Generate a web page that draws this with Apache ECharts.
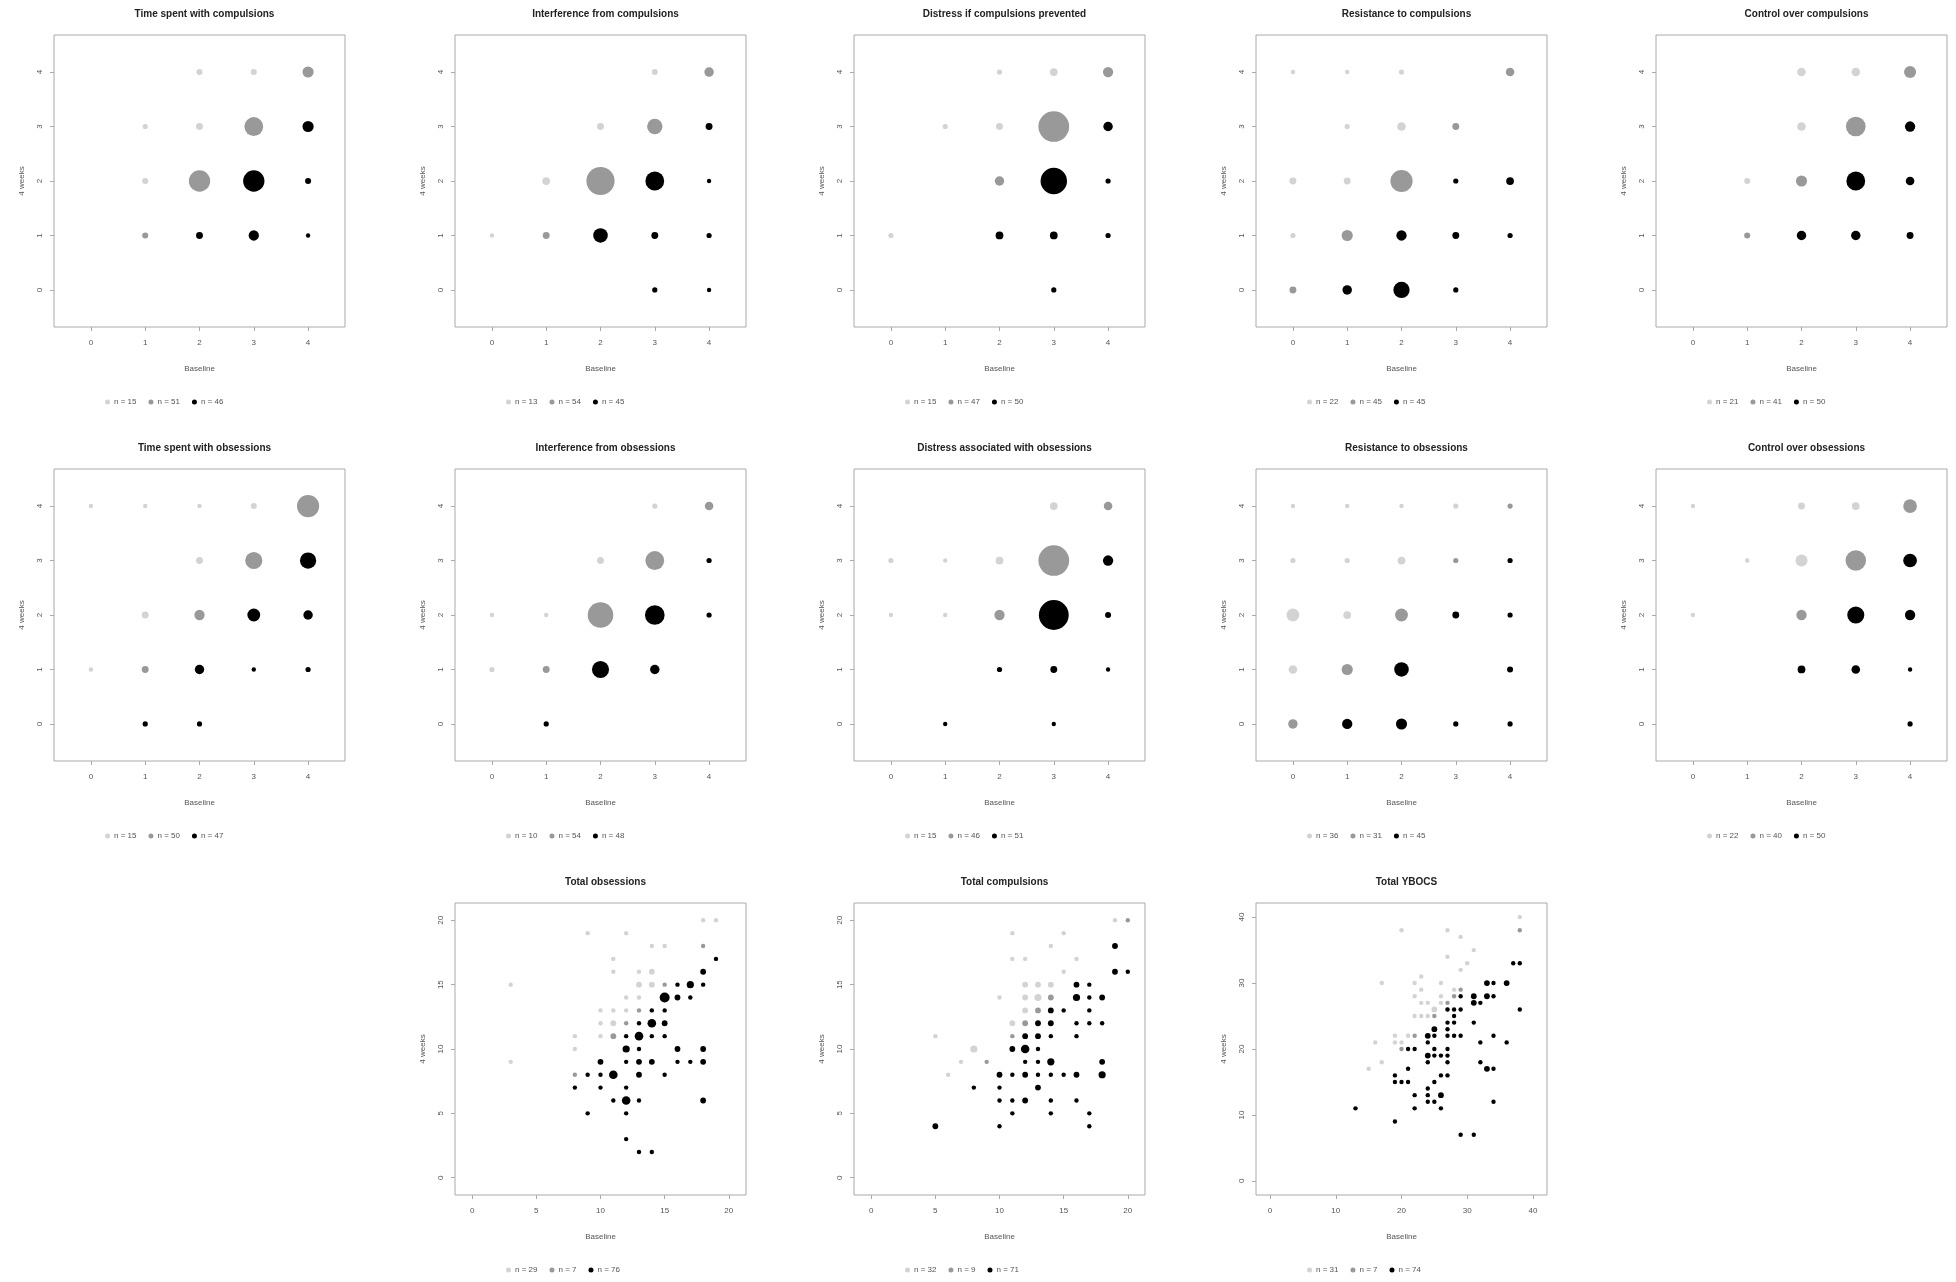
<!DOCTYPE html>
<html><head><meta charset="utf-8">
<script src="https://cdn.jsdelivr.net/npm/echarts@6/dist/echarts.min.js"></script>
<style>html,body{margin:0;padding:0;background:#fff}#c{width:1956px;height:1282px}</style>
</head><body><div id="c"></div>
<script>
// ---------- DATA ----------
const titles = ["Time spent with compulsions","Interference from compulsions","Distress if compulsions prevented","Resistance to compulsions","Control over compulsions",
"Time spent with obsessions","Interference from obsessions","Distress associated with obsessions","Resistance to obsessions","Control over obsessions",
"Total obsessions","Total compulsions","Total YBOCS"];
const ordTicks = [0,1,2,3,4];
const subTotTicks = [0,5,10,15,20];
const ybocsTicks = [0,10,20,30,40];
const xName = "Baseline", yName = "4 weeks";
// legend counts [worse, same, better]
const legendN = [[15,51,46],[13,54,45],[15,47,50],[22,45,45],[21,41,50],[15,50,47],[10,54,48],[15,46,51],[36,31,45],[22,40,50],[29,7,76],[32,9,71],[31,7,74]];
// each point: [baseline, 4 weeks, count]
const p1L=[[2,4,3],[3,4,3],[1,3,2],[2,3,4],[1,2,3]];
const p1G=[[1,1,3],[2,2,21],[3,3,18],[4,4,9]];
const p1B=[[3,2,21],[4,3,9],[3,1,8],[2,1,4],[4,2,3],[4,1,1]];
const p2L=[[3,4,3],[2,3,4],[1,2,5],[0,1,1]];
const p2G=[[4,4,7],[3,3,14],[2,2,29],[1,1,4]];
const p2B=[[4,3,4],[3,2,18],[4,2,1],[2,1,13],[3,1,4],[4,1,2],[3,0,2],[4,0,1]];
const p3L=[[2,4,2],[3,4,5],[1,3,2],[2,3,4],[0,1,2]];
const p3G=[[4,4,8],[3,3,32],[2,2,7]];
const p3B=[[4,3,7],[3,2,27],[4,2,2],[2,1,5],[3,1,5],[4,1,2],[3,0,2]];
const p4L=[[0,4,1],[1,4,1],[2,4,2],[1,3,2],[2,3,6],[0,2,4],[1,2,4],[0,1,2]];
const p4G=[[4,4,6],[3,3,4],[2,2,22],[1,1,9],[0,0,4]];
const p4B=[[3,2,2],[4,2,5],[2,1,8],[3,1,4],[4,1,2],[1,0,7],[2,0,15],[3,0,2]];
const p5L=[[2,4,6],[3,4,6],[2,3,6],[1,2,3]];
const p5G=[[4,4,10],[3,3,19],[2,2,9],[1,1,3]];
const p5B=[[4,3,8],[3,2,18],[4,2,6],[2,1,7],[3,1,7],[4,1,4]];
const p6L=[[0,4,1],[1,4,1],[2,4,1],[3,4,3],[2,3,4],[1,2,4],[0,1,1]];
const p6G=[[4,4,22],[3,3,16],[2,2,8],[1,1,4]];
const p6B=[[4,3,15],[3,2,11],[4,2,7],[2,1,7],[3,1,1],[4,1,2],[1,0,2],[2,0,2]];
const p7L=[[3,4,2],[2,3,4],[0,2,1],[1,2,1],[0,1,2]];
const p7G=[[4,4,6],[3,3,18],[2,2,26],[1,1,4]];
const p7B=[[4,3,2],[3,2,19],[4,2,2],[2,1,16],[3,1,7],[1,0,2]];
const p8L=[[3,4,5],[0,3,2],[1,3,1],[2,3,5],[0,2,1],[1,2,1]];
const p8G=[[4,4,6],[3,3,32],[2,2,8]];
const p8B=[[4,3,8],[3,2,31],[4,2,3],[2,1,2],[3,1,4],[4,1,1],[1,0,1],[3,0,1]];
const p9L=[[0,4,1],[1,4,1],[2,4,1],[3,4,2],[0,3,2],[1,3,2],[2,3,5],[0,2,11],[1,2,5],[0,1,6]];
const p9G=[[4,4,2],[3,3,2],[2,2,11],[1,1,9],[0,0,7]];
const p9B=[[4,3,2],[3,2,4],[4,2,2],[2,1,13],[4,1,3],[1,0,8],[2,0,9],[3,0,2],[4,0,2]];
const p10L=[[0,4,1],[2,4,4],[3,4,5],[1,3,1],[2,3,10],[0,2,1]];
const p10G=[[4,4,12],[3,3,20],[2,2,8]];
const p10B=[[4,3,12],[3,2,16],[4,2,8],[2,1,5],[3,1,6],[4,1,1],[4,0,2]];
const p11L=[[3,15,1],[3,9,1],[9,19,1],[12,19,1],[14,18,1],[15,18,1],[18,20,1],[19,20,1],[11,17,1],[11,16,1],[13,16,1],[14,16,2],[13,15,2],[14,15,2],[12,14,1],[13,14,1],[10,13,1],[11,13,1],[12,13,1],[10,12,1],[11,12,2],[8,11,1],[10,11,1],[8,10,1]];
const p11G=[[18,18,1],[15,15,1],[13,13,1],[12,12,1],[11,11,2],[8,8,1]];
const p11B=[[19,17,1],[18,16,2],[18,15,1],[17,15,3],[16,15,1],[15,14,5],[16,14,2],[17,14,1],[14,13,1],[15,13,1],[13,12,1],[14,12,4],[15,12,2],[12,11,1],[13,11,4],[14,11,1],[15,11,1],[12,10,3],[13,10,1],[16,10,2],[18,10,2],[10,9,2],[12,9,1],[13,9,2],[14,9,2],[16,9,1],[17,9,1],[18,9,2],[9,8,1],[10,8,1],[11,8,4],[13,8,2],[15,8,1],[8,7,1],[10,7,1],[12,7,1],[11,6,1],[12,6,4],[13,6,1],[18,6,2],[9,5,1],[12,5,1],[12,3,1],[13,2,1],[14,2,1]];
const p12L=[[11,19,1],[15,19,1],[14,18,1],[11,17,1],[12,17,1],[16,17,1],[15,16,1],[19,20,1],[12,15,2],[13,15,2],[14,15,2],[10,14,1],[12,14,2],[13,14,3],[12,13,2],[11,12,2],[5,11,1],[8,10,3],[7,9,1],[6,8,1]];
const p12G=[[20,20,1],[14,14,2],[13,13,2],[12,12,2],[11,11,1],[9,9,1]];
const p12B=[[19,18,2],[19,16,2],[20,16,1],[16,15,2],[17,15,1],[16,14,3],[17,14,1],[18,14,2],[14,13,2],[15,13,1],[17,13,1],[13,12,2],[14,12,2],[16,12,1],[17,12,1],[18,12,1],[12,11,2],[13,11,2],[14,11,1],[16,11,1],[11,10,2],[12,10,4],[13,10,1],[12,9,1],[13,9,1],[14,9,3],[18,9,2],[10,8,2],[11,8,1],[12,8,2],[13,8,1],[14,8,1],[15,8,1],[16,8,2],[18,8,3],[8,7,1],[10,7,1],[13,7,2],[10,6,1],[11,6,1],[12,6,2],[14,6,1],[16,6,1],[11,5,1],[14,5,1],[17,5,1],[5,4,2],[10,4,1],[17,4,1]];
const p13L=[[38,40,1],[20,38,1],[27,38,1],[29,37,1],[31,35,1],[27,34,1],[30,33,1],[29,32,1],[23,31,1],[17,30,1],[22,30,1],[26,30,1],[23,29,1],[28,29,1],[22,28,1],[26,28,1],[23,27,1],[26,27,1],[27,26,1],[22,25,1],[23,25,1],[24,25,1],[19,22,1],[16,21,1],[19,21,1],[20,21,1],[17,18,1],[15,17,1],[25,26,2],[21,22,1],[24,27,1]];
const p13G=[[38,38,1],[29,29,1],[28,28,1],[25,25,1],[22,22,1],[20,20,1],[27,27,1]];
const p13B=[[37,33,1],[38,33,1],[33,30,2],[34,30,1],[36,30,2],[31,28,2],[33,28,2],[34,28,1],[29,28,1],[31,27,2],[32,27,1],[38,26,1],[27,26,1],[28,26,1],[29,26,1],[27,24,1],[28,24,1],[31,24,1],[28,25,1],[25,23,2],[27,23,1],[25,22,1],[24,22,2],[27,22,1],[28,22,1],[29,22,1],[34,22,1],[24,21,1],[32,21,1],[36,21,1],[21,20,1],[22,20,1],[25,20,1],[27,20,1],[24,19,2],[25,19,1],[26,19,1],[27,19,1],[24,18,1],[27,18,1],[32,18,1],[21,17,1],[33,17,2],[34,17,1],[19,16,1],[26,16,1],[27,16,1],[19,15,1],[20,15,1],[21,15,1],[25,15,1],[24,14,1],[22,13,1],[24,13,1],[26,13,2],[24,12,1],[25,12,1],[22,11,1],[26,11,1],[34,12,1],[13,11,1],[19,9,1],[29,7,1],[31,7,1]];

// ---------- LAYOUT ----------
const panelData=[[p1L,p1G,p1B],[p2L,p2G,p2B],[p3L,p3G,p3B],[p4L,p4G,p4B],[p5L,p5G,p5B],[p6L,p6G,p6B],[p7L,p7G,p7B],[p8L,p8G,p8B],[p9L,p9G,p9B],[p10L,p10G,p10B],[p11L,p11G,p11B],[p12L,p12G,p12B],[p13L,p13G,p13B]];
const colLeft=[54,455,854,1256,1656], rowTop=[35,469,903], W=291, H=292;
const colors=['#d3d3d3','#999999','#000000'];
const FONT='Liberation Sans';
const grids=[],xAxes=[],yAxes=[],series=[],title=[],legend=[];
const nameMap={};
panelData.forEach((pd,i)=>{
  let r,c;
  if(i<10){r=Math.floor(i/5);c=i%5;} else {r=2;c=i-9;}
  const left=colLeft[c], top=rowTop[r];
  const kind = i<10?'ord':(i<12?'sub':'tot');
  const ticks = kind==='ord'?ordTicks:(kind==='sub'?subTotTicks:ybocsTicks);
  const rng = kind==='ord'?[-0.68,4.68]:(kind==='sub'?[-1.34,21.34]:[-2.14,42.14]);
  grids.push({left:left,top:top,width:W,height:H,show:true,borderColor:'#aaaaaa',borderWidth:1,backgroundColor:'#fff'});
  const ax = (isY)=>({type:'value',gridIndex:i,min:rng[0],max:rng[1],
     name:isY?yName:xName,nameLocation:'middle',nameGap:isY?28:38,nameRotate:isY?90:0,
     nameTextStyle:{fontFamily:FONT,fontSize:8,color:'#555'},
     axisLine:{show:false,onZero:false},splitLine:{show:false},
     axisTick:{show:true,length:4,lineStyle:{color:'#aaa'},customValues:ticks},
     axisLabel:{fontFamily:FONT,fontSize:8,color:'#555',margin:isY?10:12,rotate:isY?90:0,customValues:ticks}});
  xAxes.push(ax(false)); yAxes.push(ax(true));
  title.push({text:titles[i],left:left+W/2,top:top-31,textAlign:'center',
     textStyle:{fontFamily:FONT,fontSize:10,fontWeight:'bold',color:'#222'}});
  const names=[];
  pd.forEach((d,k)=>{
    const nm='p'+i+'_'+k; names.push(nm); nameMap[nm]='n = '+legendN[i][k];
    series.push({type:'scatter',name:nm,xAxisIndex:i,yAxisIndex:i,data:d,
      symbolSize: kind==='ord' ? (v=>3.5+0.85*v[2]) : (v=>3+1.4*v[2]),
      itemStyle:{color:colors[k],opacity:1},emphasis:{disabled:true},z:2+k});
  });
  legend.push({data:names.map((n,k)=>({name:n,icon:'circle',itemStyle:{color:colors[k]}})),
     left:left+46,top:top+358,itemWidth:5,itemHeight:5,itemGap:12,selectedMode:false,
     formatter:n=>nameMap[n],textStyle:{fontFamily:FONT,fontSize:8,color:'#555',padding:[0,0,0,-1]}});
});
const chart=echarts.init(document.getElementById('c'),null,{renderer:'canvas'});
chart.setOption({animation:false,backgroundColor:'#fff',title,legend,grid:grids,xAxis:xAxes,yAxis:yAxes,series});
</script></body></html>
